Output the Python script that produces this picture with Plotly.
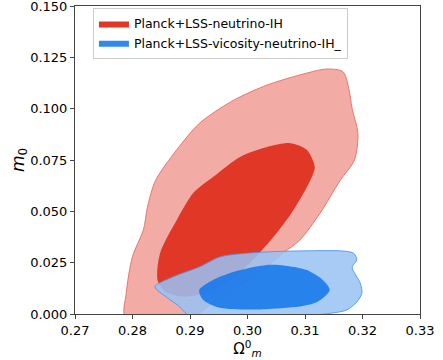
import plotly.graph_objects as go

# contour outlines (Omega_m^0, m_0)
red_outer_x = [0.2788, 0.2789, 0.2800, 0.2819, 0.2826, 0.2840, 0.2877, 0.2917, 0.2975, 0.3034,
               0.3091, 0.3138, 0.3166, 0.3176, 0.3182, 0.3192, 0.3186, 0.3161, 0.3126, 0.3091,
               0.3062, 0.3010, 0.2975, 0.2940, 0.2916, 0.2912]
red_outer_y = [-0.002, 0.010, 0.028, 0.041, 0.052, 0.065, 0.080, 0.093, 0.104, 0.1115,
               0.1164, 0.1193, 0.1180, 0.1100, 0.100, 0.088, 0.075, 0.065, 0.049, 0.036,
               0.0297, 0.018, 0.0117, 0.0054, 0.000, -0.002]

red_inner_x = [0.2844, 0.2848, 0.2877, 0.2906, 0.2940, 0.2987, 0.3034, 0.3074, 0.3103, 0.3117,
               0.3109, 0.3080, 0.3045, 0.3004, 0.2970, 0.2930, 0.2890, 0.2860]
red_inner_y = [0.0160, 0.0297, 0.0458, 0.0590, 0.0667, 0.0765, 0.0813, 0.0832, 0.0800, 0.0716,
               0.0650, 0.0507, 0.0375, 0.0248, 0.0165, 0.0105, 0.0085, 0.0105]

blue_outer_x = [0.2839, 0.2870, 0.2917, 0.2952, 0.3004, 0.3091, 0.3184, 0.3190, 0.3182, 0.3196,
                0.3199, 0.3190, 0.3173, 0.3140, 0.3091, 0.2900, 0.2880, 0.2860]
blue_outer_y = [0.0133, 0.0180, 0.0230, 0.0278, 0.0297, 0.0307, 0.0297, 0.0263, 0.0229, 0.0151,
                0.0102, 0.0058, 0.0020, 0.0002, -0.0010, -0.0010, 0.0040, 0.0080]

blue_inner_x = [0.2916, 0.2940, 0.2975, 0.3034, 0.3069, 0.3103, 0.3131, 0.3143, 0.3121, 0.3091,
                0.3062, 0.3022, 0.2952, 0.2923]
blue_inner_y = [0.0117, 0.0166, 0.0205, 0.0239, 0.0234, 0.0214, 0.0166, 0.0117, 0.0058, 0.0036,
                0.0029, 0.0022, 0.0030, 0.0068]

labels = ["Planck+LSS-neutrino-IH", "Planck+LSS-vicosity-neutrino-IH_"]

x_ticks = [0.27, 0.28, 0.29, 0.30, 0.31, 0.32, 0.33]
y_ticks = [0.000, 0.025, 0.050, 0.075, 0.100, 0.125, 0.150]

fig = go.Figure()

fig.add_trace(go.Scatter(
    x=red_outer_x + red_outer_x[:1], y=red_outer_y + red_outer_y[:1],
    mode="lines", fill="toself", fillcolor="#f2aca5",
    line=dict(color="#e8766c", width=1, shape="spline", smoothing=0.8),
    showlegend=False, hoverinfo="skip"))
fig.add_trace(go.Scatter(
    x=red_inner_x + red_inner_x[:1], y=red_inner_y + red_inner_y[:1],
    mode="lines", fill="toself", fillcolor="#e03727",
    line=dict(color="#e03727", width=0, shape="spline", smoothing=0.8),
    name=labels[0], hoverinfo="skip"))
fig.add_trace(go.Scatter(
    x=blue_outer_x + blue_outer_x[:1], y=blue_outer_y + blue_outer_y[:1],
    mode="lines", fill="toself", fillcolor="rgba(153,194,244,0.85)",
    line=dict(color="rgba(80,150,232,0.9)", width=1, shape="spline", smoothing=0.8),
    showlegend=False, hoverinfo="skip"))
fig.add_trace(go.Scatter(
    x=blue_inner_x + blue_inner_x[:1], y=blue_inner_y + blue_inner_y[:1],
    mode="lines", fill="toself", fillcolor="rgba(22,120,234,0.88)",
    line=dict(color="rgba(22,120,234,0.88)", width=0, shape="spline", smoothing=0.8),
    name=labels[1], hoverinfo="skip"))

axis_common = dict(
    showline=True, linecolor="#444", linewidth=1, mirror=True, automargin=False,
    ticks="outside", ticklen=4, tickcolor="#444", showgrid=False, zeroline=False,
    tickfont=dict(size=13, color="black"), ticklabeloverflow="allow",
)

fig.update_xaxes(range=[0.27 - 1e-7, 0.33 + 1e-7], tickvals=x_ticks, tickformat=".2f",
                 title=dict(text="Ω<sup>0</sup><sub><i>m</i></sub>", font=dict(size=15, color="black"), standoff=0),
                 **axis_common)
fig.update_yaxes(range=[-1e-7, 0.15 + 1e-7], tickvals=y_ticks, tickformat=".3f",
                 title=dict(text="<i>m</i><sub>0</sub>", font=dict(size=17, color="black"), standoff=0),
                 **axis_common)

fig.update_layout(
    width=443, height=360,
    margin=dict(l=75, r=23, t=6, b=46),
    plot_bgcolor="white", paper_bgcolor="white",
    font=dict(family="DejaVu Sans", color="black"),
    legend=dict(x=0.052, y=0.994, xanchor="left", yanchor="top",
                bgcolor="white", bordercolor="#cccccc", borderwidth=1,
                font=dict(size=12.5)),
)

fig.write_html("out.html", config={"displayModeBar": False},
               post_script="document.body.style.margin='0';")
